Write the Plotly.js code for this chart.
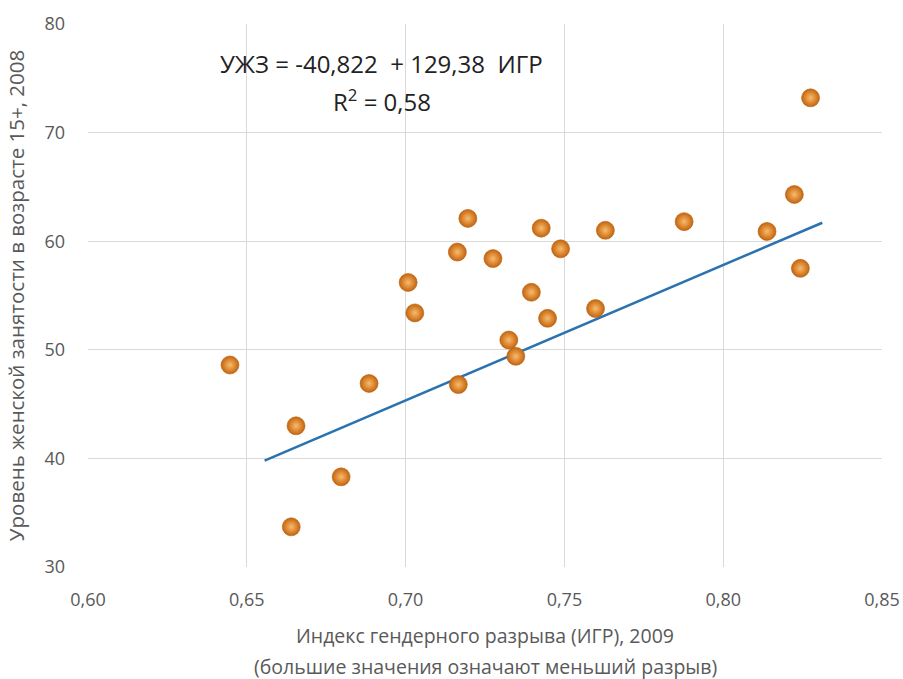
<!DOCTYPE html>
<html>
<head>
<meta charset="utf-8">
<script src="https://cdn.plot.ly/plotly-3.0.1.min.js"></script>
<style>html,body{margin:0;padding:0;background:#fff;}#chart{width:903px;height:679px;}</style>
</head>
<body>
<div id="chart"></div>
<script>
// Gender gap index (x) and female employment rate 15+ (y)
const igr = [0.6447, 0.6640, 0.6655, 0.6797, 0.6885, 0.7008, 0.7029, 0.7166, 0.7163, 0.7196,
             0.7275, 0.7325, 0.7347, 0.7396, 0.7427, 0.7447, 0.7488, 0.7598, 0.7629, 0.7877,
             0.8138, 0.8224, 0.8243, 0.8275];
const uzhz = [48.6, 33.7, 43.0, 38.3, 46.9, 56.2, 53.4, 46.8, 59.0, 62.1,
              58.4, 50.9, 49.4, 55.3, 61.2, 52.9, 59.3, 53.8, 61.0, 61.8,
              60.9, 64.3, 57.5, 73.2];
// trend line endpoints as drawn in the picture
const trendX = [0.6556, 0.8312];
const trendY = [39.8, 61.7];
const xTicks = [0.60, 0.65, 0.70, 0.75, 0.80, 0.85];
const yTicks = [30, 40, 50, 60, 70, 80];
const eqText = "УЖЗ = -40,822 \u00a0+ 129,38 \u00a0ИГР";
const r2Text = "R<sup>2</sup> = 0,58";
const xTitle1 = "Индекс гендерного разрыва (ИГР), 2009";
const xTitle2 = "(большие значения означают меньший разрыв)";
const yTitle = "Уровень женской занятости в возрасте 15+, 2008";

const gray = "#595959";
const fontFam = "Open Sans, Noto Sans, sans-serif";

const data = [
  {
    x: trendX, y: trendY, type: "scatter", mode: "lines",
    line: {color: "#2a72b0", width: 2.5}, hoverinfo: "skip"
  },
  {
    x: igr, y: uzhz, type: "scatter", mode: "markers",
    marker: {
      size: 18, color: "#c4640e",
      gradient: {type: "radial", color: "#f9bb6a"},
      line: {width: 0.6, color: "#b5600f"}
    }
  }
];

const layout = {
  width: 903, height: 679,
  margin: {l: 88, r: 21, t: 24, b: 112},
  paper_bgcolor: "#fff", plot_bgcolor: "#fff",
  showlegend: false,
  separators: ", ",
  font: {family: fontFam, color: gray},
  xaxis: {
    range: [0.60, 0.85], tickvals: xTicks, tickformat: ".2f",
    showgrid: true, gridcolor: "#d9d9d9", gridwidth: 1,
    zeroline: false, showline: false, ticks: "",
    tickfont: {size: 18, color: gray, family: fontFam},
    ticklabelstandoff: 20, fixedrange: true
  },
  yaxis: {
    range: [30, 80], tickvals: yTicks, tickformat: "d",
    showgrid: true, gridcolor: "#d9d9d9", gridwidth: 1,
    zeroline: false, showline: false, ticks: "",
    tickfont: {size: 18, color: gray, family: fontFam},
    ticklabelstandoff: 22,
    title: {text: yTitle, font: {size: 20.5, color: gray, family: fontFam}, standoff: 14},
    fixedrange: true
  },
  annotations: [
    {xref: "x", yref: "y", x: 0.6925, y: 76.4, text: eqText, showarrow: false,
     font: {size: 24, color: "#222", family: fontFam}, xanchor: "center", yanchor: "middle"},
    {xref: "x", yref: "y", x: 0.6925, y: 73.0, text: r2Text, showarrow: false,
     font: {size: 24, color: "#222", family: fontFam}, xanchor: "center", yanchor: "middle"},
    {xref: "paper", yref: "paper", x: 0.5, y: -0.127, text: xTitle1, showarrow: false,
     font: {size: 19.5, color: gray, family: fontFam}, xanchor: "center", yanchor: "middle"},
    {xref: "paper", yref: "paper", x: 0.5, y: -0.184, text: xTitle2, showarrow: false,
     font: {size: 19.5, color: gray, family: fontFam}, xanchor: "center", yanchor: "middle"}
  ]
};

Plotly.newPlot("chart", data, layout, {displayModeBar: false, staticPlot: true});
</script>
</body>
</html>
